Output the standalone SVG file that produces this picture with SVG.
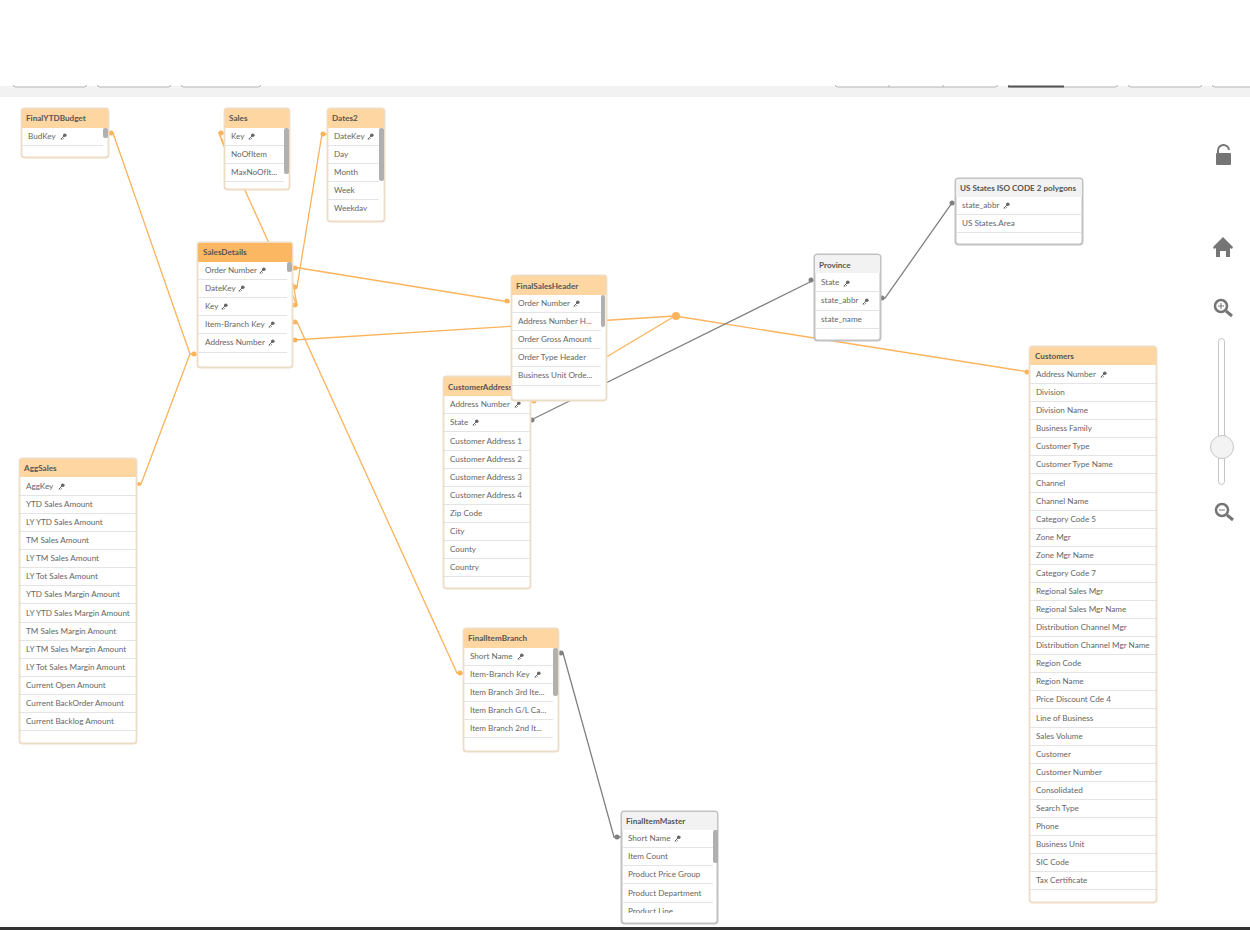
<svg xmlns="http://www.w3.org/2000/svg" width="1250" height="930" viewBox="0 0 1250 930">
<style>
text{font-family:"Lato","Liberation Sans",sans-serif;font-size:8.15px;fill:#666}
.t{font-weight:700;fill:#555}
.b{fill:#fff;stroke:#eddcc6;stroke-width:1.8}
.g .b{stroke:#c2c2c2;stroke-width:2}
.h{fill:#fdd6a2}
.g .h{fill:#f2f2f2}
.s{fill:none;stroke:#e4e4e4;stroke-width:1}
.sb{fill:#b0b0b0}
.co{fill:none;stroke:#fbb45c;stroke-width:1.3}
.cg{fill:none;stroke:#808080;stroke-width:1.3}
.do{fill:#fbb45c}
.dg{fill:#808080}
.btn{fill:#fff;stroke:#b4b4b4;stroke-width:1}
.ic{fill:#757575}
.il{fill:none;stroke:#757575}
</style>
<defs>
<g id="key"><circle cx="4.800" cy="-4.800" r="1.800" fill="#666"/><path d="M4.500-4.500L.8-.8M2.500-2.500l1.200 1.200M1.200-1.200l1 1" stroke="#666" stroke-width="1" fill="none"/></g>
<clipPath id="c1"><rect x="327" y="108" width="58" height="103"/></clipPath>
<clipPath id="c2"><rect x="621" y="811" width="97" height="102"/></clipPath>
</defs>
<rect width="1250" height="930" fill="#fff"/>
<rect y="86" width="1250" height="11" fill="#f2f2f2"/>
<rect y="927" width="1250" height="3" fill="#333"/>
<g id="toolbar">
<rect class="btn" x="13" y="70" width="74" height="17" rx="3"/>
<rect class="btn" x="97" y="70" width="74" height="17" rx="3"/>
<rect class="btn" x="181" y="70" width="80" height="17" rx="3"/>
<rect class="btn" x="835" y="70" width="163" height="17" rx="3"/>
<path d="M889 85v2M943 85v2" stroke="#b4b4b4"/>
<rect class="btn" x="1008" y="70" width="110" height="17" rx="3"/>
<rect x="1008" y="85.500" width="56" height="2" fill="#555"/>
<rect class="btn" x="1128" y="70" width="74" height="17" rx="3"/>
<rect class="btn" x="1212" y="70" width="60" height="17" rx="3"/>
<rect y="0" width="1250" height="85" fill="#fff"/>
</g>
<g id="connectors">
<path class="co" d="M109 133H113L190 354H197"/>
<path class="co" d="M137 484H141L190 354"/>
<path class="co" d="M224 147L219 133H224M293 283L297 305H293M219 133L297 305"/>
<path class="co" d="M293 287H297L322 134H327"/>
<path class="co" d="M293 267L510 302"/>
<path class="co" d="M293 322H297L457 673H463"/>
<path class="co" d="M293 340L675 316"/>
<path class="co" d="M531 402L675 316"/>
<path class="co" d="M675 316L1029 372"/>
<path class="cg" d="M531 420L814 280"/>
<path class="cg" d="M881 298H885L952 203H955"/>
<path class="cg" d="M559 653H563L614 837H621"/>
<g class="do">
<circle cx="111" cy="133" r="2.500"/><circle cx="194" cy="354" r="2.500"/><circle cx="139" cy="484" r="2"/>
<circle cx="221" cy="133" r="2.500"/><circle cx="295" cy="305" r="2.500"/><circle cx="295" cy="287" r="2.500"/><circle cx="323" cy="134" r="2.500"/>
<circle cx="295" cy="268" r="2.500"/><circle cx="507" cy="301" r="2.500"/><circle cx="295" cy="322" r="2.500"/><circle cx="460" cy="673" r="2.500"/>
<circle cx="295" cy="340" r="2.500"/><circle cx="534" cy="401" r="2.500"/><circle cx="1027" cy="372" r="2.500"/>
<circle cx="676" cy="316" r="4"/>
</g>
<g class="dg">
<circle cx="532" cy="420" r="2.500"/><circle cx="811" cy="280" r="2.500"/><circle cx="882" cy="298" r="2.500"/><circle cx="952" cy="203" r="2.500"/>
<circle cx="561" cy="653" r="2.500"/><circle cx="617" cy="837" r="2.500"/>
</g>
</g>
<g id="FinalYTDBudget">
<rect class="b" x="21.500" y="108.500" width="87" height="49" rx="3"/>
<path class="h" d="M22 128V111a2 2 0 0 1 2-2H106a2 2 0 0 1 2 2V128Z"/>
<text class="t" x="26" y="121">FinalYTDBudget</text>
<text x="28" y="139">BudKey</text><use href="#key" x="60" y="140"/>
<path class="s" d="M22 145.500H103"/>
<rect class="sb" x="103" y="128" width="5" height="10" rx="2"/>
</g>
<g id="Sales">
<rect class="b" x="224.500" y="108.500" width="65" height="81" rx="3"/>
<path class="h" d="M225 128V111a2 2 0 0 1 2-2H287a2 2 0 0 1 2 2V128Z"/>
<text class="t" x="229" y="121">Sales</text>
<text x="231" y="139">Key</text><use href="#key" x="248" y="140"/>
<text x="231" y="157">NoOfItem</text>
<text x="231" y="175">MaxNoOfIt...</text>
<path class="s" d="M225 145.500H284M225 163.500H284M225 181.500H284"/>
<rect class="sb" x="284" y="128" width="5" height="46" rx="2"/>
</g>
<g id="Dates2">
<rect class="b" x="327.500" y="108.500" width="57" height="113" rx="3"/>
<path class="h" d="M328 128V111a2 2 0 0 1 2-2H382a2 2 0 0 1 2 2V128Z"/>
<text class="t" x="332" y="121">Dates2</text>
<g clip-path="url(#c1)">
<text x="334" y="139">DateKey</text><use href="#key" x="367" y="140"/>
<text x="334" y="157">Day</text>
<text x="334" y="175">Month</text>
<text x="334" y="193">Week</text>
<text x="334" y="211">Weekday</text>
</g>
<path class="s" d="M328 145.500H379M328 163.500H379M328 181.500H379M328 199.500H379"/>
<rect class="sb" x="379" y="128" width="5" height="53" rx="2"/>
</g>
<g id="SalesDetails">
<rect class="b" x="197.500" y="242.500" width="95" height="125" rx="3"/>
<path d="M198 262V245a2 2 0 0 1 2-2H290a2 2 0 0 1 2 2V262Z" fill="#fbb761"/>
<text class="t" x="203" y="255">SalesDetails</text>
<text x="205" y="273">Order Number</text><use href="#key" x="259" y="274"/>
<text x="205" y="291">DateKey</text><use href="#key" x="238" y="292"/>
<text x="205" y="309">Key</text><use href="#key" x="221" y="310"/>
<text x="205" y="327">Item-Branch Key</text><use href="#key" x="268" y="328"/>
<text x="205" y="345">Address Number</text><use href="#key" x="268" y="346"/>
<path class="s" d="M198 279.500H287M198 297.500H287M198 315.500H287M198 333.500H287M198 352.500H287"/>
<rect class="sb" x="287" y="262" width="5" height="10" rx="2"/>
</g>
<g id="AggSales">
<rect class="b" x="19.500" y="458.500" width="117" height="285" rx="3"/>
<path class="h" d="M20 477V461a2 2 0 0 1 2-2H134a2 2 0 0 1 2 2V477Z"/>
<text class="t" x="24" y="471">AggSales</text>
<text x="26" y="489">AggKey</text><use href="#key" x="58" y="490"/>
<text x="26" y="507">YTD Sales Amount</text>
<text x="26" y="525">LY YTD Sales Amount</text>
<text x="26" y="543">TM Sales Amount</text>
<text x="26" y="561">LY TM Sales Amount</text>
<text x="26" y="579">LY Tot Sales Amount</text>
<text x="26" y="597">YTD Sales Margin Amount</text>
<text x="26" y="616">LY YTD Sales Margin Amount</text>
<text x="26" y="634">TM Sales Margin Amount</text>
<text x="26" y="652">LY TM Sales Margin Amount</text>
<text x="26" y="670">LY Tot Sales Margin Amount</text>
<text x="26" y="688">Current Open Amount</text>
<text x="26" y="706">Current BackOrder Amount</text>
<text x="26" y="724">Current Backlog Amount</text>
<path class="s" d="M20 495.500H136M20 513.500H136M20 531.500H136M20 549.500H136M20 567.500H136M20 585.500H136M20 603.500H136M20 622.500H136M20 640.500H136M20 658.500H136M20 676.500H136M20 694.500H136M20 712.500H136M20 730.500H136"/>
</g>
<g id="CustomerAddress">
<rect class="b" x="443.500" y="376.500" width="87" height="212" rx="3"/>
<path class="h" d="M444 396V379a2 2 0 0 1 2-2H528a2 2 0 0 1 2 2V396Z"/>
<text class="t" x="448" y="390">CustomerAddress</text>
<text x="450" y="407">Address Number</text><use href="#key" x="514" y="408"/>
<text x="450" y="425">State</text><use href="#key" x="472" y="426"/>
<text x="450" y="444">Customer Address 1</text>
<text x="450" y="462">Customer Address 2</text>
<text x="450" y="480">Customer Address 3</text>
<text x="450" y="498">Customer Address 4</text>
<text x="450" y="516">Zip Code</text>
<text x="450" y="534">City</text>
<text x="450" y="552">County</text>
<text x="450" y="570">Country</text>
<path class="s" d="M444 413.500H530M444 431.500H530M444 450.500H530M444 468.500H530M444 486.500H530M444 504.500H530M444 522.500H530M444 540.500H530M444 558.500H530M444 576.500H530"/>
</g>
<g id="FinalSalesHeader">
<rect class="b" x="511.500" y="275.500" width="95" height="125" rx="3"/>
<path class="h" d="M512 295V278a2 2 0 0 1 2-2H604a2 2 0 0 1 2 2V295Z"/>
<text class="t" x="516" y="289">FinalSalesHeader</text>
<text x="518" y="306">Order Number</text><use href="#key" x="573" y="307"/>
<text x="518" y="324">Address Number H...</text>
<text x="518" y="342">Order Gross Amount</text>
<text x="518" y="360">Order Type Header</text>
<text x="518" y="378">Business Unit Orde...</text>
<path class="s" d="M512 312.500H601M512 330.500H601M512 348.500H601M512 366.500H601M512 385.500H601"/>
<rect class="sb" x="601" y="295" width="4" height="32" rx="2"/>
</g>
<g id="FinalItemBranch">
<rect class="b" x="463.500" y="628.500" width="95" height="123" rx="3"/>
<path class="h" d="M464 648V631a2 2 0 0 1 2-2H556a2 2 0 0 1 2 2V648Z"/>
<text class="t" x="468" y="641">FinalItemBranch</text>
<text x="470" y="659">Short Name</text><use href="#key" x="517" y="660"/>
<text x="470" y="677">Item-Branch Key</text><use href="#key" x="534" y="678"/>
<text x="470" y="695">Item Branch 3rd Ite...</text>
<text x="470" y="713">Item Branch G/L Ca...</text>
<text x="470" y="731">Item Branch 2nd It...</text>
<path class="s" d="M464 665.500H553M464 683.500H553M464 701.500H553M464 719.500H553M464 737.500H553"/>
<rect class="sb" x="553" y="648" width="5" height="48" rx="2"/>
</g>
<g id="FinalItemMaster" class="g">
<rect class="b" x="621.500" y="811.500" width="96" height="112" rx="3"/>
<path class="h" d="M622 830V814a2 2 0 0 1 2-2H715a2 2 0 0 1 2 2V830Z"/>
<text class="t" x="626" y="824">FinalItemMaster</text>
<g clip-path="url(#c2)">
<text x="628" y="841">Short Name</text><use href="#key" x="674" y="842"/>
<text x="628" y="859">Item Count</text>
<text x="628" y="877">Product Price Group</text>
<text x="628" y="896">Product Department</text>
<text x="628" y="914">Product Line</text>
</g>
<path class="s" d="M622 847.500H713M622 865.500H713M622 883.500H713M622 902.500H713"/>
<rect class="sb" x="713" y="830" width="5" height="33" rx="2"/>
</g>
<g id="Province" class="g">
<rect class="b" x="814.500" y="254.500" width="66" height="86" rx="3"/>
<path class="h" d="M815 273V257a2 2 0 0 1 2-2H878a2 2 0 0 1 2 2V273Z"/>
<text class="t" x="819" y="268">Province</text>
<text x="821" y="285">State</text><use href="#key" x="843" y="287"/>
<text x="821" y="303">state_abbr</text><use href="#key" x="862" y="305"/>
<text x="821" y="322">state_name</text>
<path class="s" d="M815 291.500H880M815 310.500H880M815 328.500H880"/>
</g>
<g id="USStates" class="g">
<rect class="b" x="955.500" y="178.500" width="127" height="66" rx="3"/>
<path class="h" d="M956 197V181a2 2 0 0 1 2-2H1080a2 2 0 0 1 2 2V197Z"/>
<text class="t" x="960" y="191">US States ISO CODE 2 polygons</text>
<text x="962" y="208">state_abbr</text><use href="#key" x="1003" y="209"/>
<text x="962" y="226">US States.Area</text>
<path class="s" d="M956 214.500H1082M956 232.500H1082"/>
</g>
<g id="Customers">
<rect class="b" x="1029.500" y="346.500" width="127" height="556" rx="3"/>
<path class="h" d="M1030 365V349a2 2 0 0 1 2-2H1154a2 2 0 0 1 2 2V365Z"/>
<text class="t" x="1035" y="359">Customers</text>
<text x="1036" y="377">Address Number</text><use href="#key" x="1100" y="378"/>
<text x="1036" y="395">Division</text>
<text x="1036" y="413">Division Name</text>
<text x="1036" y="431">Business Family</text>
<text x="1036" y="449">Customer Type</text>
<text x="1036" y="467">Customer Type Name</text>
<text x="1036" y="486">Channel</text>
<text x="1036" y="504">Channel Name</text>
<text x="1036" y="522">Category Code 5</text>
<text x="1036" y="540">Zone Mgr</text>
<text x="1036" y="558">Zone Mgr Name</text>
<text x="1036" y="576">Category Code 7</text>
<text x="1036" y="594">Regional Sales Mgr</text>
<text x="1036" y="612">Regional Sales Mgr Name</text>
<text x="1036" y="630">Distribution Channel Mgr</text>
<text x="1036" y="648">Distribution Channel Mgr Name</text>
<text x="1036" y="666">Region Code</text>
<text x="1036" y="684">Region Name</text>
<text x="1036" y="702">Price Discount Cde 4</text>
<text x="1036" y="721">Line of Business</text>
<text x="1036" y="739">Sales Volume</text>
<text x="1036" y="757">Customer</text>
<text x="1036" y="775">Customer Number</text>
<text x="1036" y="793">Consolidated</text>
<text x="1036" y="811">Search Type</text>
<text x="1036" y="829">Phone</text>
<text x="1036" y="847">Business Unit</text>
<text x="1036" y="865">SIC Code</text>
<text x="1036" y="883">Tax Certificate</text>
<path class="s" d="M1030 383.500H1156M1030 401.500H1156M1030 419.500H1156M1030 437.500H1156M1030 455.500H1156M1030 473.500H1156M1030 492.500H1156M1030 510.500H1156M1030 528.500H1156M1030 546.500H1156M1030 564.500H1156M1030 582.500H1156M1030 600.500H1156M1030 618.500H1156M1030 636.500H1156M1030 654.500H1156M1030 672.500H1156M1030 690.500H1156M1030 708.500H1156M1030 727.500H1156M1030 745.500H1156M1030 763.500H1156M1030 781.500H1156M1030 799.500H1156M1030 817.500H1156M1030 835.500H1156M1030 853.500H1156M1030 871.500H1156M1030 889.500H1156"/>
</g>
<g id="controls">
<rect class="ic" x="1216" y="153" width="15" height="12" rx="1"/>
<path class="il" stroke-width="2" d="M1218 153V151a5.500 5.500 0 0 1 11 -1"/>
<path class="ic" d="M1223 237L1233 247L1232 249L1230 248V257H1226V251H1220V257H1216V248L1214 249L1213 247Z"/>
<rect x="1221" y="251" width="3" height="3" fill="#fff"/>
<circle class="il" stroke-width="2.500" cx="1221" cy="306" r="6"/><path class="il" stroke-width="3" d="M1226 311L1232 316"/><path class="il" d="M1218 306H1224M1221 303V309"/>
<rect x="1218.500" y="338.500" width="6" height="146" rx="3" fill="#fff" stroke="#c4c4c4"/>
<circle cx="1222" cy="447" r="11.500" fill="#f3f3f3" stroke="#c8c8c8"/>
<circle class="il" stroke-width="2.500" cx="1222" cy="510" r="6"/><path class="il" stroke-width="3" d="M1227 515L1233 520"/><path class="il" d="M1219 510H1225"/>
</g>
</svg>
